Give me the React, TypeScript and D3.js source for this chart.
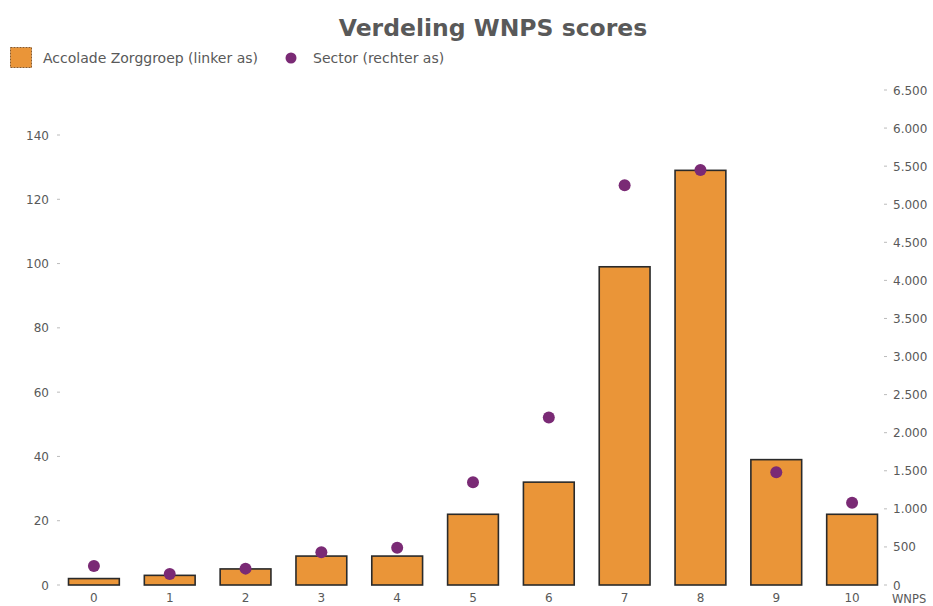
import React from 'react';
import * as d3 from 'd3';

// scores en aantallen
const scores = ['0', '1', '2', '3', '4', '5', '6', '7', '8', '9', '10'];
const accolade = [2, 3, 5, 9, 9, 22, 32, 99, 129, 39, 22];
const sector = [250, 145, 215, 430, 490, 1350, 2200, 5250, 5450, 1480, 1080];
const leftTicks = [0, 20, 40, 60, 80, 100, 120, 140];
const rightTicks = [0, 500, 1000, 1500, 2000, 2500, 3000, 3500, 4000, 4500, 5000, 5500, 6000, 6500];

const W = 933;
const H = 606;
const font = '"DejaVu Sans", Verdana, sans-serif';
const orange = '#EA9538';
const purple = '#7A2A75';
const grey = '#595959';

const App = () => {
  const x = d3.scaleBand<string>().domain(scores).range([56, 890]).paddingInner(0.33).paddingOuter(0.165);
  const yL = d3.scaleLinear().domain([0, 140]).range([585, 135]);
  const yR = d3.scaleLinear().domain([0, 6500]).range([585, 90]);
  const fmt = (v: number) => d3.format(',')(v).replace(/,/g, '.');

  return (
    <svg width={W} height={H} style={{ position: 'absolute', left: 0, top: 0, fontFamily: font }}>
      <rect width={W} height={H} fill="#fff" />
      <text x={493} y={36} textAnchor="middle" fontSize={23.5} fontWeight="bold" fill={grey}>
        Verdeling WNPS scores
      </text>

      {/* legenda */}
      <rect x={10.5} y={47.5} width={21} height={20} fill={orange} stroke="#8a5a2a" strokeDasharray="2,1" />
      <text x={43} y={63} fontSize={14} fill={grey}>Accolade Zorggroep (linker as)</text>
      <circle cx={291} cy={58} r={5.5} fill={purple} />
      <text x={313} y={63} fontSize={14} fill={grey}>Sector (rechter as)</text>

      {/* linker as */}
      {leftTicks.map(t => (
        <g key={'l' + t}>
          <line x1={57} x2={60} y1={yL(t)} y2={yL(t)} stroke="#bbb" />
          <text x={49} y={yL(t) + 4.5} textAnchor="end" fontSize={12} fill={grey}>{t}</text>
        </g>
      ))}

      {/* rechter as */}
      {rightTicks.map(t => (
        <g key={'r' + t}>
          <line x1={884} x2={887} y1={yR(t)} y2={yR(t)} stroke="#bbb" />
          <text x={893} y={yR(t) + 4.5} fontSize={12} fill={grey}>{fmt(t)}</text>
        </g>
      ))}

      {/* staven */}
      {scores.map((s, i) => (
        <rect key={'b' + s} x={x(s)!} y={yL(accolade[i])} width={x.bandwidth()} height={585 - yL(accolade[i])}
          fill={orange} stroke="#2a2a2a" strokeWidth={1.6} />
      ))}

      {/* sector punten */}
      {scores.map((s, i) => (
        <circle key={'p' + s} cx={x(s)! + x.bandwidth() / 2} cy={yR(sector[i])} r={6} fill={purple} />
      ))}

      {/* x-as labels */}
      {scores.map(s => (
        <text key={'x' + s} x={x(s)! + x.bandwidth() / 2} y={602} textAnchor="middle" fontSize={12} fill={grey}>{s}</text>
      ))}
      <text x={892} y={603} fontSize={11.5} fill={grey}>WNPS</text>
    </svg>
  );
};

export default App;
